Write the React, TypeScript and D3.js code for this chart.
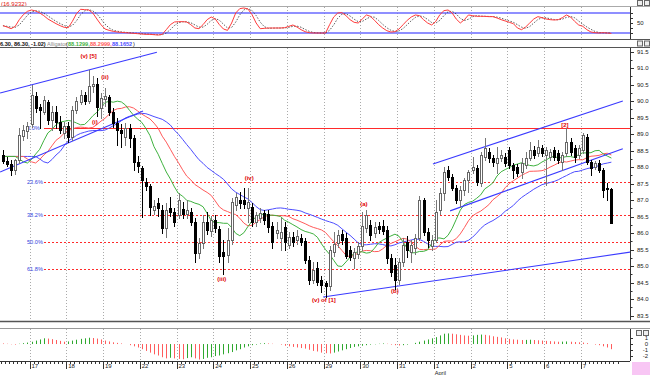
import React from "react";
import * as d3 from "d3";

const W = 650;
const H = 375;

// time axis: 9 bars per day, 7 bars of the day before the 17th are visible
const dayLabels = ["17", "18", "19", "22", "23", "24", "25", "26", "29", "30", "31", "1", "2", "5", "6", "7"];
const monthLabel = { day: "1", text: "April" };
const barsPerDay = 9;
const leadBars = 7;

const opens = [
  88.36, 88.18, 88.09, 87.91, 88.21, 88.94, 89.09, 89.3, 90.15, 89.82,
  89.67, 89.97, 89.42, 89.67, 89.36, 89.03, 89.24, 88.91, 89.73, 89.97,
  90.18, 90.0, 90.45, 90.52, 89.79, 90.06, 90.12, 89.67, 89.33, 89.12,
  88.91, 89.18, 88.88, 88.15, 87.97, 87.55, 87.42, 86.7, 86.91, 86.7,
  86.15, 86.76, 86.64, 86.55, 86.73, 86.58, 86.64, 86.33, 85.39, 85.7,
  86.33, 86.06, 86.39, 86.12, 85.42, 85.33, 85.79, 86.85, 87.0, 87.0,
  86.76, 86.79, 86.33, 86.45, 86.61, 86.58, 86.21, 86.0, 85.85, 86.18,
  85.64, 85.88, 85.79, 85.85, 85.76, 85.18, 84.58, 84.94, 84.58, 84.48,
  84.39, 85.42, 85.7, 85.97, 85.85, 85.48, 85.24, 85.36, 85.61, 86.15,
  86.24, 86.0, 86.21, 86.21, 86.09, 85.24, 85.03, 84.58, 85.12, 85.73,
  85.42, 85.55, 85.85, 87.0, 86.03, 85.61, 85.79, 86.7, 87.21, 87.91,
  87.7, 87.36, 87.0, 87.3, 87.61, 87.91, 87.97, 87.52, 88.3, 88.45,
  88.27, 88.12, 88.27, 88.3, 88.52, 88.06, 88.0, 87.85, 88.06, 88.27,
  88.52, 88.42, 88.58, 88.36, 88.3, 88.52, 88.42, 88.15, 88.42, 88.76,
  88.58, 88.36, 88.52, 88.91, 88.15, 88.0, 88.12, 87.91, 87.36, 87.32,
];
const highs = [
  88.52, 88.3, 88.21, 88.24, 89.18, 89.27, 89.36, 90.48, 90.27, 89.91,
  90.15, 90.03, 89.85, 89.85, 89.55, 89.36, 89.36, 89.85, 90.12, 90.33,
  90.27, 90.94, 90.76, 90.7, 90.24, 90.39, 90.18, 89.79, 89.48, 89.3,
  89.33, 89.3, 88.97, 88.33, 88.03, 87.67, 87.48, 87.0, 87.06, 86.85,
  86.91, 87.09, 86.76, 87.21, 86.94, 87.0, 86.76, 86.45, 85.85, 86.55,
  86.64, 86.52, 86.55, 86.21, 85.79, 86.15, 87.06, 87.21, 87.24, 87.36,
  87.36, 86.91, 86.64, 86.76, 86.7, 86.7, 86.33, 86.33, 86.45, 86.33,
  86.03, 86.03, 86.09, 85.97, 85.85, 85.3, 85.12, 85.12, 84.7, 84.55,
  85.61, 86.03, 86.09, 86.09, 86.0, 85.61, 85.55, 85.73, 86.64, 86.7,
  86.39, 86.33, 86.33, 86.39, 86.21, 85.36, 85.24, 85.24, 85.85, 85.91,
  85.79, 85.97, 87.12, 87.06, 86.15, 85.94, 87.0, 87.36, 88.0, 88.03,
  87.79, 87.45, 87.42, 87.67, 87.91, 88.3, 88.06, 88.45, 88.88, 88.58,
  88.36, 88.61, 88.52, 88.42, 88.61, 88.12, 88.09, 88.27, 88.45, 88.76,
  88.64, 88.82, 88.67, 88.61, 88.55, 88.61, 88.52, 88.45, 89.18, 88.88,
  88.67, 88.67, 89.03, 89.0, 88.21, 88.18, 88.21, 87.97, 87.52, 87.36,
];
const lows = [
  88.12, 88.03, 87.76, 87.79, 88.12, 88.82, 88.88, 89.21, 89.67, 89.18,
  89.61, 89.3, 89.12, 89.18, 89.03, 88.88, 88.76, 88.82, 89.64, 89.91,
  89.91, 89.94, 90.27, 89.55, 89.48, 89.85, 89.58, 89.21, 88.67, 88.61,
  88.67, 88.61, 87.91, 87.85, 86.48, 87.3, 86.55, 86.58, 86.52, 86.0,
  85.88, 86.52, 86.21, 86.45, 86.45, 86.45, 86.24, 85.12, 85.24, 85.55,
  85.97, 85.91, 86.03, 85.12, 84.76, 85.12, 85.67, 86.7, 86.76, 86.76,
  86.33, 86.21, 86.21, 86.33, 86.27, 86.03, 85.55, 85.85, 85.48, 85.48,
  85.55, 85.61, 85.67, 85.64, 85.09, 84.45, 84.48, 84.42, 84.21, 84.06,
  84.27, 85.3, 85.58, 85.67, 85.24, 85.18, 84.94, 85.24, 85.48, 86.03,
  85.79, 85.88, 86.0, 85.97, 85.09, 84.7, 84.3, 84.45, 85.0, 85.27,
  85.12, 85.36, 85.79, 85.94, 85.58, 85.48, 85.73, 86.58, 87.0, 87.61,
  87.3, 86.91, 86.79, 87.15, 87.24, 87.82, 87.45, 87.42, 88.21, 88.15,
  88.03, 87.82, 88.18, 88.03, 87.97, 87.67, 87.73, 87.67, 87.97, 88.21,
  88.27, 88.33, 88.33, 87.45, 88.21, 88.21, 88.12, 87.91, 88.33, 88.36,
  88.15, 88.27, 88.42, 88.09, 87.76, 87.94, 87.85, 87.09, 87.0, 86.3,
];
const closes = [
  88.18, 88.09, 87.91, 88.21, 88.97, 89.12, 89.24, 90.18, 89.79, 89.73,
  90.03, 89.42, 89.67, 89.36, 89.12, 89.24, 88.91, 89.73, 90.0, 90.18,
  90.0, 90.45, 90.52, 89.82, 90.09, 90.15, 89.67, 89.33, 89.12, 89.03,
  89.18, 88.88, 88.15, 88.03, 87.61, 87.42, 86.79, 86.82, 86.76, 86.15,
  86.7, 86.64, 86.33, 87.0, 86.58, 86.7, 86.33, 85.39, 85.7, 86.33,
  86.09, 86.39, 86.15, 85.3, 85.3, 85.79, 86.94, 87.09, 86.91, 86.88,
  86.94, 86.33, 86.55, 86.61, 86.39, 86.18, 85.73, 86.09, 86.03, 85.73,
  85.88, 85.73, 85.91, 85.73, 85.18, 84.58, 84.88, 84.52, 84.42, 84.39,
  85.48, 85.67, 85.94, 85.79, 85.3, 85.27, 85.42, 85.61, 86.21, 86.55,
  85.94, 86.18, 86.12, 86.06, 85.24, 84.82, 84.58, 85.12, 85.64, 85.48,
  85.64, 85.85, 87.0, 86.03, 85.79, 85.79, 86.64, 87.21, 87.85, 87.7,
  87.36, 87.0, 87.3, 87.61, 87.85, 88.0, 87.55, 88.36, 88.58, 88.27,
  88.15, 88.27, 88.36, 88.12, 88.06, 87.91, 87.82, 88.12, 88.27, 88.52,
  88.36, 88.61, 88.42, 88.52, 88.45, 88.3, 88.21, 88.36, 88.76, 88.45,
  88.3, 88.58, 88.97, 88.15, 87.97, 88.12, 87.91, 87.3, 87.32, 86.3,
];

// stochastic %K
const stochK = [
  42, 38, 33, 40, 60, 75, 85, 89, 86, 80,
  72, 62, 55, 48, 42, 37, 36, 55, 78, 91,
  90, 89, 80, 62, 45, 32, 28, 25, 23, 22,
  21, 20, 19, 18, 17, 16, 16, 15, 14, 16,
  30, 45, 53, 54, 54, 53, 45, 35, 33, 45,
  60, 68, 62, 45, 32, 28, 50, 80, 93, 95,
  92, 75, 50, 33, 34, 35, 35, 35, 35, 36,
  40, 44, 38, 30, 24, 21, 20, 20, 20, 20,
  45, 68, 80, 81, 72, 60, 52, 50, 62, 74,
  70, 58, 45, 35, 27, 23, 24, 32, 45, 58,
  68, 74, 72, 60, 50, 44, 55, 75, 87, 89,
  80, 62, 50, 60, 74, 72, 70, 70, 70, 69,
  69, 65, 60, 56, 52, 48, 35, 30, 38, 50,
  62, 69, 66, 62, 60, 59, 60, 66, 74, 68,
  55, 44, 40, 30, 23, 21, 20, 21, 20, 19,
];

// oscillator histogram
const oscValues = [
  0.1, 0.05, -0.05, -0.1, 0.05, 0.15, 0.25, 0.4, 0.6, 0.8,
  1.0, 0.95, 0.85, 0.7, 0.55, 0.4, 0.45, 0.6, 0.75, 0.9,
  1.0, 1.1, 1.05, 0.95, 0.8, 0.6, 0.45, 0.3, 0.2, 0.1,
  0.0, -0.2, -0.4, -0.6, -0.9, -1.2, -1.5, -1.8, -2.0, -2.3,
  -2.5, -2.4, -2.5, -2.6, -2.65, -2.45, -2.3, -2.5, -2.7, -2.6,
  -2.4, -2.3, -2.1, -2.0, -1.8, -1.6, -1.4, -1.1, -0.9, -0.6,
  -0.4, -0.2, -0.1, 0.1, 0.15, 0.1, 0.05, 0.0, -0.1, -0.3,
  -0.4, -0.5, -0.6, -0.7, -0.8, -1.0, -1.2, -1.3, -1.5, -1.6,
  -1.65, -1.5, -1.3, -1.1, -0.9, -0.7, -0.5, -0.4, -0.3, -0.2,
  -0.1, -0.05, 0.05, 0.1, 0.05, -0.1, -0.2, -0.25, -0.2, -0.1,
  0.0, 0.2, 0.4, 0.6, 0.8, 1.0, 1.2, 1.5, 1.8, 1.85,
  1.8, 1.7, 1.6, 1.5, 1.45, 1.5, 1.6, 1.65, 1.6, 1.5,
  1.35, 1.25, 1.15, 1.0, 0.9, 0.8, 0.75, 0.7, 0.72, 0.75,
  0.7, 0.65, 0.6, 0.55, 0.5, 0.45, 0.4, 0.42, 0.45, 0.4,
  0.35, 0.3, 0.25, 0.15, 0.0, -0.1, -0.2, -0.4, -0.6, -0.9,
];

// Fibonacci retracement levels
const fibLabels = ["0.0%", "23.6%", "38.2%", "50.0%", "61.8%"];
const fibPrices = [89.18, 87.55, 86.55, 85.73, 84.91];

// trend channel lines, [bar, price] at both ends
const channels = [
  [[-0.7, 90.24], [37.7, 91.48]],
  [[-0.7, 87.85], [34.3, 89.7]],
  [[105.3, 88.09], [151.8, 90.0]],
  [[109.5, 86.67], [151.8, 88.55]],
  [[78.4, 84.06], [153.6, 85.42]],
];

// Elliott wave counts
const waveText = ["(v) [5]", "(ii)", "(i)", "(iii)", "(iv)", "(v) of [1]", "(a)", "(b)", "[2]"];
const waveBar = [21, 25, 22.5, 53.6, 60.3, 78.6, 88.4, 96, 137.6];
const wavePrice = [91.36, 90.73, 89.36, 84.61, 87.67, 83.97, 86.88, 84.24, 89.27];

// Alligator: jaw, teeth, lips
const gatorNames = ["jaw", "teeth", "lips"];
const gatorPeriods = [13, 8, 5];
const gatorShifts = [8, 5, 3];
const gatorColors = ["#4d4dff", "#ff5a5a", "#3fb23f"];
const gatorHeader = ["88.1299,", "88.2999,", "88.1652"];

const FONT = "'Liberation Sans', Arial, sans-serif";

function smma(src: number[], p: number) {
  const out: number[] = [];
  let prev = src[0];
  src.forEach((v, i) => {
    if (i === 0) prev = v;
    else if (i < p) prev = (prev * i + v) / (i + 1);
    else prev = (prev * (p - 1) + v) / p;
    out.push(prev);
  });
  return out;
}

export default function App() {
  const n = closes.length;
  const nDays = dayLabels.length;
  const idx = d3.range(n);

  const x = d3
    .scaleLinear()
    .domain([0, nDays * barsPerDay])
    .range([29.5, 29.5 + nDays * 36.75]);
  const bx = (i: number) => x(i - leadBars + 0.5);
  const y = d3.scaleLinear().domain([83.5, 91.5]).range([315.5, 51.5]);
  const ys = d3.scaleLinear().domain([0, 100]).range([39.7, 6.3]);
  const ya = d3.scaleLinear().domain([-2, 1]).range([355.5, 338.3]);

  const med = idx.map((i) => (highs[i] + lows[i]) / 2);

  // alligator lines
  const gator = gatorNames.map((name, g) => {
    const s = smma(med, gatorPeriods[g]);
    const vals = idx.map((i) => s[Math.max(0, i - gatorShifts[g])]);
    const path = d3
      .line<number>()
      .x((i) => bx(i))
      .y((i) => y(vals[i]))(idx);
    return { name, path, color: gatorColors[g] };
  });

  // %D = 3 bar mean of %K
  const stochD = idx.map((i) => d3.mean(stochK.slice(Math.max(0, i - 2), i + 1)) as number);
  const kPath = d3.line<number>().x((i) => bx(i)).y((i) => ys(stochK[i]))(idx);
  const dPath = d3.line<number>().x((i) => bx(i)).y((i) => ys(stochD[i]))(idx);

  const dayX = d3.range(nDays).map((k) => x(k * barsPerDay));
  const minorTicks = d3
    .range(-leadBars, nDays * barsPerDay + 1)
    .map((j) => x(j))
    .filter((v) => v >= 0 && v <= 630);
  const priceTicks = d3.range(83.5, 91.51, 0.25);
  const snap = (v: number) => Math.round(v) + 0.5;

  return (
    <svg
      width={W}
      height={H}
      style={{ position: "absolute", left: 0, top: 0, background: "#fff" }}
      fontFamily={FONT}
    >
      <defs>
        <clipPath id="clipMain">
          <rect x={0} y={48} width={630} height={272} />
        </clipPath>
        <clipPath id="clipTop">
          <rect x={0} y={7} width={630} height={32} />
        </clipPath>
        <clipPath id="clipBottom">
          <rect x={0} y={329} width={630} height={32} />
        </clipPath>
      </defs>
      <rect width={W} height={H} fill="#fff" />

      {/* ---------- stochastic panel ---------- */}
      <text x={1} y={5.5} fontSize={6} fill="#e01010">(16,9232)</text>
      <line x1={0} x2={650} y1={6.5} y2={6.5} stroke="#aaa" />
      <line x1={0} x2={650} y1={39.5} y2={39.5} stroke="#555" />
      {dayX.map((v, k) => (
        <line key={"td" + k} x1={snap(v)} x2={snap(v)} y1={7} y2={39} stroke="#aaa" strokeDasharray="1,2" />
      ))}
      {[80, 20].map((lv) => (
        <line key={"lv" + lv} x1={0} x2={630} y1={ys(lv)} y2={ys(lv)} stroke="#6a6aff" strokeWidth={1.5} />
      ))}
      <g clipPath="url(#clipTop)">
        <path d={dPath ?? ""} fill="none" stroke="#333" strokeWidth={0.8} strokeDasharray="1.5,1.5" />
        <path d={kPath ?? ""} fill="none" stroke="#ff3b3b" strokeWidth={1} />
      </g>
      <line x1={630.5} x2={630.5} y1={7} y2={39} stroke="#333" />
      {[20, 35, 50, 65, 80].map((v) => (
        <line key={"st" + v} x1={630.5} x2={633} y1={snap(ys(v))} y2={snap(ys(v))} stroke="#333" />
      ))}
      <text x={637} y={ys(50) + 2} fontSize={6} fill="#222">50</text>

      {/* ---------- header of price panel ---------- */}
      <text x={0} y={45.5} fontSize={5.6} fill="#111" fontWeight="bold">6.30, 86.30, -1.02)</text>
      <text x={47} y={45.5} fontSize={5.6} fill="#888">Alligator</text>
      <text x={66} y={45.5} fontSize={5.6} fill="#111">(</text>
      {gatorHeader.map((t, g) => (
        <text key={"gh" + g} x={68 + g * 22} y={45.5} fontSize={5.6} fontWeight="bold"
          fill={[gatorColors[2], gatorColors[1], gatorColors[0]][g]}>{t}</text>
      ))}
      <text x={133} y={45.5} fontSize={5.6} fill="#111">)</text>
      <line x1={0} x2={650} y1={47.5} y2={47.5} stroke="#555" />

      {/* ---------- price panel ---------- */}
      {dayX.map((v, k) => (
        <line key={"md" + k} x1={snap(v)} x2={snap(v)} y1={48} y2={320} stroke="#aaa" strokeDasharray="1,2" />
      ))}
      {fibPrices.map((p, k) => (
        <g key={"fib" + k}>
          <line x1={44} x2={630} y1={snap(y(p))} y2={snap(y(p))} stroke="#ff2a2a"
            strokeDasharray={k === 0 ? undefined : "2,2"} strokeWidth={1} />
          <text x={27} y={y(p) + 2} fontSize={5.6} fill="#3344dd">{fibLabels[k]}</text>
        </g>
      ))}
      <g clipPath="url(#clipMain)">
        {gator.map((g) => (
          <path key={g.name} d={g.path ?? ""} fill="none" stroke={g.color} strokeWidth={1} />
        ))}
        {channels.map((c, k) => (
          <line key={"ch" + k} x1={bx(c[0][0])} y1={y(c[0][1])} x2={bx(c[1][0])} y2={y(c[1][1])}
            stroke="#3a3aff" strokeWidth={1.1} />
        ))}
        {idx.map((i) => {
          const px = Math.round(bx(i));
          const up = closes[i] >= opens[i];
          const top = Math.round(y(Math.max(opens[i], closes[i])));
          const bot = Math.round(y(Math.min(opens[i], closes[i])));
          return (
            <g key={"c" + i}>
              <line x1={px + 0.5} x2={px + 0.5} y1={Math.round(y(highs[i]))} y2={Math.round(y(lows[i])) + 1}
                stroke={up ? "#777" : "#000"} />
              <rect x={px - 0.5} y={top + 0.5} width={2} height={Math.max(1, bot - top)}
                fill={up ? "#fff" : "#000"} stroke={up ? "#666" : "#000"} />
            </g>
          );
        })}
      </g>
      {waveText.map((t, k) => (
        <text key={"w" + k} x={bx(waveBar[k])} y={y(wavePrice[k]) + 2} fontSize={6} fontWeight="bold"
          fill="#e00000" textAnchor="middle">{t}</text>
      ))}
      <line x1={630.5} x2={630.5} y1={48} y2={320} stroke="#333" />
      {priceTicks.map((p, k) => (
        <g key={"pt" + k}>
          <line x1={630.5} x2={k % 2 === 0 ? 634 : 632.5} y1={snap(y(p))} y2={snap(y(p))} stroke="#333" />
          {k % 2 === 0 && (
            <text x={637} y={y(p) + 2} fontSize={6} fill="#222">{d3.format(".1f")(p)}</text>
          )}
        </g>
      ))}
      <line x1={0} x2={650} y1={321.5} y2={321.5} stroke="#555" strokeWidth={1.5} />

      {/* ---------- oscillator panel ---------- */}
      <line x1={0} x2={650} y1={328.5} y2={328.5} stroke="#999" />
      {dayX.map((v, k) => (
        <line key={"bd" + k} x1={snap(v)} x2={snap(v)} y1={329} y2={361} stroke="#aaa" strokeDasharray="1,2" />
      ))}
      <g clipPath="url(#clipBottom)">
        {idx.map((i) => (
          <line key={"ao" + i} x1={Math.round(bx(i)) + 0.5} x2={Math.round(bx(i)) + 0.5}
            y1={ya(0)} y2={ya(oscValues[i])}
            stroke={i > 0 && oscValues[i] >= oscValues[i - 1] ? "#2fa82f" : "#ff5c5c"} strokeWidth={1} />
        ))}
      </g>
      <line x1={630.5} x2={630.5} y1={329} y2={361} stroke="#333" />
      {[1, 0, -1, -2].map((v) => (
        <g key={"av" + v}>
          <line x1={630.5} x2={633} y1={snap(ya(v))} y2={snap(ya(v))} stroke="#333" />
          <text x={648} y={ya(v) + 2} fontSize={6} fill="#222" textAnchor="end">{v}</text>
        </g>
      ))}

      {/* ---------- time axis ---------- */}
      <line x1={0} x2={630} y1={361.5} y2={361.5} stroke="#333" />
      {minorTicks.map((v, k) => (
        <line key={"mt" + k} x1={snap(v)} x2={snap(v)} y1={361} y2={364} stroke="#333" />
      ))}
      {dayX.map((v, k) => (
        <g key={"dl" + k}>
          <line x1={snap(v)} x2={snap(v)} y1={361} y2={369} stroke="#333" />
          <text x={v + 2} y={368} fontSize={6} fill="#222">{dayLabels[k]}</text>
          {dayLabels[k] === monthLabel.day && k > 8 && (
            <text x={v + 1} y={374.5} fontSize={5.6} fill="#222">{monthLabel.text}</text>
          )}
        </g>
      ))}
      <rect x={632} y={362} width={18} height={13} fill="#f8c6f4" />

      {/* window buttons */}
      {[[637, 0], [644, 0], [637, 40.5], [644, 40.5], [636, 330], [643, 330]].map((b, k) => (
        <rect key={"btn" + k} x={b[0] + 0.5} y={b[1] + 0.5} width={5} height={5} fill="#eee" stroke="#666" />
      ))}
    </svg>
  );
}
